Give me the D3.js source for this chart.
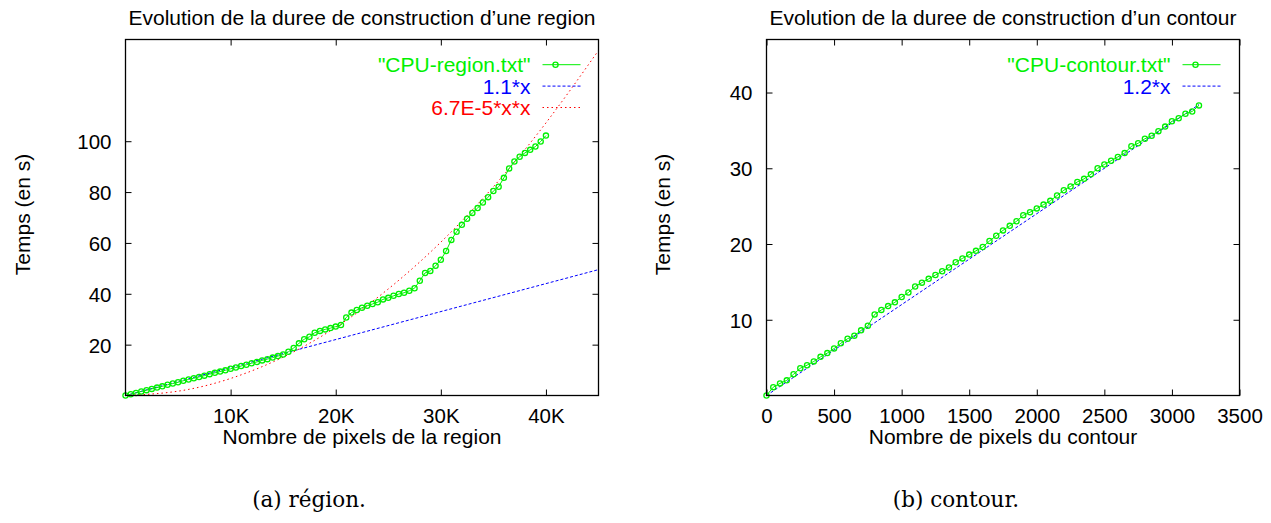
<!DOCTYPE html>
<html>
<head>
<meta charset="utf-8">
<script src="https://cdn.jsdelivr.net/npm/d3@7/dist/d3.min.js"></script>
<style>
  html, body { margin: 0; padding: 0; background: #fff; }
  svg { display: block; }
  text { font-family: "Liberation Sans", Arial, Helvetica, sans-serif; }
  .cap { font-family: "DejaVu Serif", "Liberation Serif", serif; }
</style>
</head>
<body>
<svg id="chart" width="1271" height="523"></svg>
<script>
// ---------------- DATA ----------------
// Panel (a): region
const regionPixels = [0,500,1000,1500,2000,2500,3000,3500,4000,4500,5000,5500,6000,6500,7000,7500,8000,8500,9000,9500,
  10000,10500,11000,11500,12000,12500,13000,13500,14000,14500,15000,15500,16000,16500,17000,17500,18000,18500,19000,19500,
  20000,20500,21000,21500,22000,22500,23000,23500,24000,24500,25000,25500,26000,26500,27000,27500,28000,28500,29000,29500,
  30000,30500,31000,31500,32000,32500,33000,33500,34000,34500,35000,35500,36000,36500,37000,37500,38000,38500,39000,39500,40000];
const regionTimes = [0,0.5,1.0,1.6,2.1,2.6,3.1,3.6,4.2,4.7,5.2,5.8,6.3,6.8,7.3,7.8,8.4,8.9,9.4,9.9,
  10.5,11.0,11.6,12.1,12.7,13.2,13.8,14.3,14.9,15.5,16.1,17.2,18.7,20.5,22.1,23.1,24.7,25.4,26.0,26.5,
  27.1,27.7,30.7,32.6,33.6,34.5,35.3,36.0,36.7,37.8,38.4,39.2,39.9,40.4,41.2,42.2,45.1,48.2,49.0,51.0,
  53.4,56.8,61.2,64.4,67.1,69.5,71.8,73.7,75.9,78.0,80.4,82.1,85.6,89.3,92.0,93.9,95.4,96.6,97.9,99.9,102.2];
// fitted curve "1.1*x" (read at its ends) and "6.7E-5*x*x" (read every 5K)
const regionLinX = [0, 45000];
const regionLinY = [0, 49.5];
const regionQuadX = [0,5000,10000,15000,20000,25000,30000,35000,40000,45000];
const regionQuadY = [0,1.7,6.7,15.1,26.8,41.9,60.3,82.1,107.2,135.7];
const regionXTicks = [10000,20000,30000,40000];
const regionXTickLabels = ["10K","20K","30K","40K"];
const regionYTicks = [20,40,60,80,100];
const regionLegend = ["\"CPU-region.txt\"", "1.1*x", "6.7E-5*x*x"];

// Panel (b): contour
const contourPixels = [0,50,100,150,200,250,300,350,400,450,500,550,600,650,700,750,800,850,900,950,
  1000,1050,1100,1150,1200,1250,1300,1350,1400,1450,1500,1550,1600,1650,1700,1750,1800,1850,1900,1950,
  2000,2050,2100,2150,2200,2250,2300,2350,2400,2450,2500,2550,2600,2650,2700,2750,2800,2850,2900,2950,
  3000,3050,3100,3150,3200];
const contourTimes = [0,1.1,1.6,2.0,2.8,3.6,4.0,4.5,5.1,5.6,6.2,6.9,7.5,7.9,8.6,9.2,10.7,11.3,11.8,12.3,
  13.0,13.6,14.4,14.9,15.4,15.9,16.4,16.9,17.6,18.1,18.6,19.1,19.6,20.4,21.1,21.8,22.4,23.0,23.8,24.2,
  24.7,25.2,25.7,26.4,27.1,27.6,28.2,28.6,29.2,30.0,30.5,31.0,31.5,32.0,32.9,33.3,33.9,34.3,34.9,35.5,
  36.2,36.6,37.2,37.5,38.3];
const contourLinX = [0, 3200];
const contourLinY = [0, 38.4];
const contourXTicks = [0,500,1000,1500,2000,2500,3000,3500];
const contourYTicks = [10,20,30,40];
const contourLegend = ["\"CPU-contour.txt\"", "1.2*x"];

const titles = ["Evolution de la duree de construction d\u2019une region",
                "Evolution de la duree de construction d\u2019un contour"];
const xLabels = ["Nombre de pixels de la region", "Nombre de pixels du contour"];
const yLabel = "Temps (en s)";
const captions = ["(a) r\u00e9gion.", "(b) contour."];

// ---------------- STYLE ----------------
const GREEN = "#00f000", BLUE = "#0000ff", RED = "#ff0000";
const FS = 21, TFS = 20.5;

const svg = d3.select("#chart");

function panel(cfg) {
  const {L, R, T, B} = cfg;
  const x = d3.scaleLinear().domain(cfg.xDomain).range([L, R]);
  const y = d3.scaleLinear().domain(cfg.yDomain).range([B, T]);
  const g = svg.append("g");

  const ax = (sel) => { sel.select(".domain").remove(); sel.selectAll(".tick line").attr("stroke", "#000"); };
  const bottom = g.append("g").attr("transform", `translate(0,${B})`)
    .call(d3.axisBottom(x).tickValues(cfg.xTicks).tickFormat((d, i) => cfg.xTickLabels[i]).tickSizeInner(-6).tickSizeOuter(0))
    .call(ax);
  bottom.selectAll("text").attr("y", 27).attr("dy", null).attr("font-size", TFS).attr("fill", "#000");
  g.append("g").attr("transform", `translate(0,${T})`)
    .call(d3.axisTop(x).tickValues(cfg.xTicks).tickFormat("").tickSizeInner(-6).tickSizeOuter(0)).call(ax);
  const left = g.append("g").attr("transform", `translate(${L},0)`)
    .call(d3.axisLeft(y).tickValues(cfg.yTicks).tickFormat(d3.format("d")).tickSizeInner(-6).tickSizeOuter(0).tickPadding(14))
    .call(ax);
  left.selectAll("text").attr("font-size", TFS).attr("fill", "#000").attr("x", -14).attr("dy", "0.36em");
  g.append("g").attr("transform", `translate(${R},0)`)
    .call(d3.axisRight(y).tickValues(cfg.yTicks).tickFormat("").tickSizeInner(-6).tickSizeOuter(0)).call(ax);
  g.selectAll(".tick line").attr("stroke-width", 1);

  const clipId = "clip" + cfg.id;
  g.append("clipPath").attr("id", clipId).append("rect")
    .attr("x", L).attr("y", T).attr("width", R - L).attr("height", B - T);
  const plot = g.append("g").attr("clip-path", `url(#${clipId})`);

  cfg.fits.forEach(f => {
    const pts = f.xs.map((v, i) => [v, f.ys[i]]);
    plot.append("path").datum(pts)
      .attr("d", d3.line().x(d => x(d[0])).y(d => y(d[1])).curve(f.curve || d3.curveLinear))
      .attr("fill", "none").attr("stroke", f.color).attr("stroke-width", 1)
      .attr("stroke-dasharray", f.dash);
  });

  const pts = cfg.dataX.map((v, i) => [v, cfg.dataY[i]]);
  plot.append("path").datum(pts)
    .attr("d", d3.line().x(d => x(d[0])).y(d => y(d[1])))
    .attr("fill", "none").attr("stroke", GREEN).attr("stroke-width", 1);
  g.append("g").selectAll("circle").data(pts).join("circle")
    .attr("cx", d => x(d[0])).attr("cy", d => y(d[1])).attr("r", 2.6)
    .attr("fill", "none").attr("stroke", GREEN).attr("stroke-width", 1.3);

  g.append("rect").attr("x", L).attr("y", T).attr("width", R - L).attr("height", B - T)
    .attr("fill", "none").attr("stroke", "#000").attr("stroke-width", 1.3);

  g.append("text").attr("x", (L + R) / 2).attr("y", 25).attr("text-anchor", "middle")
    .attr("font-size", FS).text(cfg.title);
  g.append("text").attr("x", (L + R) / 2).attr("y", 444).attr("text-anchor", "middle")
    .attr("font-size", FS).text(cfg.xLabel);
  g.append("text").attr("transform", `translate(${cfg.yLabelX},${(T + B) / 2 - 3}) rotate(-90)`)
    .attr("text-anchor", "middle").attr("font-size", FS).text(yLabel);

  cfg.legend.forEach((lab, i) => {
    const by = 72.3 + i * 21.4;
    const item = cfg.legendItems[i];
    g.append("text").attr("x", cfg.legTextX).attr("y", by).attr("text-anchor", "end")
      .attr("font-size", FS).attr("fill", item.color).text(lab);
    g.append("line").attr("x1", cfg.legTextX + 12).attr("x2", cfg.legTextX + 50)
      .attr("y1", by - 7.6).attr("y2", by - 7.6)
      .attr("stroke", item.color).attr("stroke-width", 1).attr("stroke-dasharray", item.dash);
    if (item.marker) {
      g.append("circle").attr("cx", cfg.legTextX + 25).attr("cy", by - 7.6).attr("r", 2.6)
        .attr("fill", "none").attr("stroke", item.color).attr("stroke-width", 1.3);
    }
  });

  svg.append("text").attr("class", "cap").attr("x", cfg.capX).attr("y", 507)
    .attr("text-anchor", "middle").attr("font-size", 21.5).text(cfg.caption);
}

panel({
  id: "a", L: 125.5, R: 598.5, T: 39.5, B: 395.5,
  xDomain: [0, 45000], yDomain: [0, 140],
  xTicks: regionXTicks, xTickLabels: regionXTickLabels, yTicks: regionYTicks,
  dataX: regionPixels, dataY: regionTimes,
  fits: [
    {xs: regionLinX, ys: regionLinY, color: BLUE, dash: "3,2"},
    {xs: regionQuadX, ys: regionQuadY, color: RED, dash: "1.5,3", curve: d3.curveNatural}
  ],
  legend: regionLegend,
  legendItems: [{color: GREEN, dash: null, marker: true}, {color: BLUE, dash: "3,2"}, {color: RED, dash: "1.5,3"}],
  legTextX: 530.5,
  title: titles[0], xLabel: xLabels[0], yLabelX: 30,
  caption: captions[0], capX: 309
});

panel({
  id: "b", L: 766.5, R: 1239.5, T: 39.5, B: 395.5,
  xDomain: [0, 3500], yDomain: [0, 47],
  xTicks: contourXTicks, xTickLabels: contourXTicks.map(String), yTicks: contourYTicks,
  dataX: contourPixels, dataY: contourTimes,
  fits: [
    {xs: contourLinX, ys: contourLinY, color: BLUE, dash: "3,2"}
  ],
  legend: contourLegend,
  legendItems: [{color: GREEN, dash: null, marker: true}, {color: BLUE, dash: "3,2"}],
  legTextX: 1170.5,
  title: titles[1], xLabel: xLabels[1], yLabelX: 670,
  caption: captions[1], capX: 956
});
</script>
</body>
</html>
